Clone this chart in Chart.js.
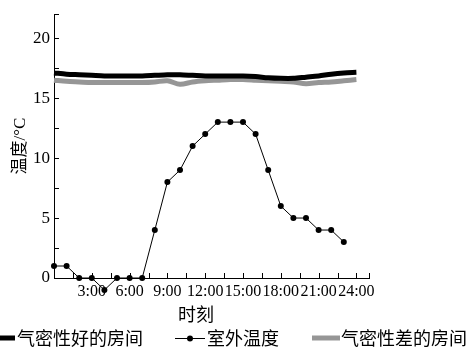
<!DOCTYPE html>
<html>
<head>
<meta charset="utf-8">
<script src="https://cdn.jsdelivr.net/npm/chart.js@4/dist/chart.umd.min.js"></script>
<style>
  html, body { margin: 0; padding: 0; background: #fff; }
  #wrap { width: 470px; height: 350px; }
</style>
</head>
<body>
<div id="wrap"><canvas id="chart"></canvas></div>
<script>
/* ---------- data ---------- */
const HOURS_ROOM = [0,1,2,3,4,5,6,7,8,9,10,11,12,13,14,15,16,17,18,19,20,21,22,23,24];
const ROOM_TIGHT = [17.1,17.0,16.95,16.9,16.85,16.85,16.85,16.85,16.9,16.95,16.95,16.9,16.85,16.85,16.85,16.85,16.8,16.7,16.65,16.65,16.75,16.85,17.0,17.1,17.15];
const ROOM_LEAKY = [16.5,16.4,16.35,16.3,16.3,16.3,16.3,16.3,16.35,16.45,16.15,16.35,16.45,16.5,16.55,16.55,16.5,16.45,16.4,16.35,16.2,16.3,16.35,16.45,16.55];

const HOURS_OUT = [0,1,2,3,4,5,6,7,8,9,10,11,12,13,14,15,16,17,18,19,20,21,22,23];
const OUTDOOR   = [1,1,0,0,-1,0,0,0,4,8,9,11,12,13,13,13,12,9,6,5,5,4,4,3];

const X_TICKS = [1.5,3,4.5,6,7.5,9,10.5,12,13.5,15,16.5,18,19.5,21,22.5,24];
const Y_TICKS = [2.5,5,7.5,10,12.5,15,17.5,20];

const LEGEND_NAMES = ['气密性好的房间', '室外温度', '气密性差的房间'];
const X_TITLE = '时刻';
const Y_TITLE = '温度/°C';

const SERIF = "'Liberation Serif', 'Noto Sans CJK SC', serif";
const CJK = "'Noto Sans CJK SC', sans-serif";
const GRAY = '#969696';

function pts(xs, ys) { return xs.map((x, i) => ({ x, y: ys[i] })); }

/* ---------- inward ticks, axis caps, x title, legend ---------- */
const decor = {
  id: 'decor',
  afterDatasetsDraw(chart) {
    // Chart.js skips points outside the chart area; the -1 reading sits below the axis
    const { ctx, chartArea: a } = chart;
    const meta = chart.getDatasetMeta(0);
    ctx.save();
    ctx.fillStyle = '#000';
    meta.data.forEach(p => {
      if (p.y > a.bottom + 2) {
        ctx.beginPath(); ctx.arc(p.x, p.y, 3, 0, Math.PI * 2); ctx.fill();
      }
    });
    ctx.restore();
  },
  afterDraw(chart) {
    const { ctx, chartArea: a, scales: { x, y } } = chart;
    ctx.save();
    ctx.strokeStyle = '#000';
    ctx.lineWidth = 1;
    ctx.beginPath();
    Y_TICKS.concat([22]).forEach(v => {
      const py = Math.round(y.getPixelForValue(v)) + 0.5;
      ctx.moveTo(a.left, py); ctx.lineTo(a.left + 5, py);
    });
    X_TICKS.concat([25]).forEach(v => {
      const px = Math.round(x.getPixelForValue(v)) + 0.5;
      ctx.moveTo(px, a.bottom); ctx.lineTo(px, a.bottom - 5);
    });
    ctx.stroke();

    // x title
    ctx.fillStyle = '#000';
    ctx.font = '18px ' + CJK;
    ctx.textAlign = 'center';
    ctx.textBaseline = 'middle';
    ctx.fillText(X_TITLE, 196, 314);

    // legend
    const ly = 338;
    ctx.textAlign = 'left';
    ctx.lineCap = 'butt';

    ctx.strokeStyle = '#000'; ctx.lineWidth = 5;
    ctx.beginPath(); ctx.moveTo(-4, ly); ctx.lineTo(15, ly); ctx.stroke();
    ctx.fillText(LEGEND_NAMES[0], 17, ly);

    ctx.lineWidth = 1;
    ctx.beginPath(); ctx.moveTo(175, ly + 0.5); ctx.lineTo(205, ly + 0.5); ctx.stroke();
    ctx.beginPath(); ctx.arc(190, ly + 0.5, 3, 0, Math.PI * 2); ctx.fill();
    ctx.fillText(LEGEND_NAMES[1], 207, ly);

    ctx.strokeStyle = GRAY; ctx.lineWidth = 5;
    ctx.beginPath(); ctx.moveTo(312, ly); ctx.lineTo(340, ly); ctx.stroke();
    ctx.fillText(LEGEND_NAMES[2], 341, ly);
    ctx.restore();
  }
};

new Chart(document.getElementById('chart'), {
  type: 'line',
  data: {
    datasets: [
      {
        label: LEGEND_NAMES[1],
        data: pts(HOURS_OUT, OUTDOOR),
        borderColor: '#000',
        backgroundColor: '#000',
        borderWidth: 1,
        pointRadius: 3,
        pointBorderWidth: 0,
        tension: 0,
        clip: false
      },
      {
        label: LEGEND_NAMES[0],
        data: pts(HOURS_ROOM, ROOM_TIGHT),
        borderColor: '#000',
        borderWidth: 5,
        pointRadius: 0,
        tension: 0.3,
        clip: false
      },
      {
        label: LEGEND_NAMES[2],
        data: pts(HOURS_ROOM, ROOM_LEAKY),
        borderColor: GRAY,
        borderWidth: 5,
        pointRadius: 0,
        tension: 0.3,
        clip: false
      }
    ]
  },
  options: {
    responsive: true,
    maintainAspectRatio: false,
    animation: false,
    layout: { padding: { top: 11, right: 101, left: 0, bottom: 0 } },
    plugins: {
      legend: { display: false },
      tooltip: { enabled: false }
    },
    scales: {
      x: {
        type: 'linear',
        min: 0,
        max: 25,
        afterBuildTicks: s => { s.ticks = X_TICKS.map(v => ({ value: v })); },
        afterFit: s => { s.height = 72; },
        ticks: {
          autoSkip: false,
          maxRotation: 0,
          padding: 4,
          color: '#000',
          font: { family: SERIF, size: 16 },
          callback: v => (v % 3 === 0 ? v + ':00' : '')
        },
        grid: { display: false, drawTicks: false },
        border: { display: true, color: '#000', width: 1 }
      },
      y: {
        min: 0,
        max: 22,
        afterBuildTicks: s => { s.ticks = [0].concat(Y_TICKS).map(v => ({ value: v })); },
        afterFit: s => { s.width = 54; },
        ticks: {
          padding: 4,
          color: '#000',
          font: { family: SERIF, size: 17 },
          callback: v => (v % 5 === 0 ? String(v) : '')
        },
        grid: { display: false, drawTicks: false },
        border: { display: true, color: '#000', width: 1 },
        title: {
          display: true,
          text: Y_TITLE,
          color: '#000',
          font: { family: SERIF, size: 17 },
          padding: { top: 10, bottom: 0 }
        }
      }
    }
  },
  plugins: [decor]
});
</script>
</body>
</html>
